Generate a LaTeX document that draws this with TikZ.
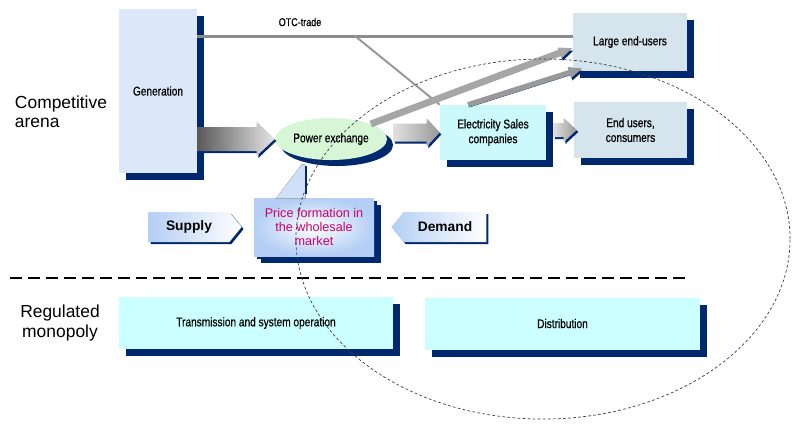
\documentclass[tikz,border=0pt]{standalone}
\usepackage{fontspec}
\setmainfont{Liberation Sans}
\newfontfamily\narrowfont[FakeStretch=0.8,FakeBold=0.6]{Liberation Sans}
\usetikzlibrary{arrows.meta,positioning,calc,shapes.geometric,shapes.symbols,shadows}
\definecolor{navy}{RGB}{0,40,110}
\definecolor{genfill}{RGB}{220,232,250}
\definecolor{userfill}{RGB}{214,228,238}
\definecolor{salesfill}{RGB}{204,250,252}
\definecolor{gridfill}{RGB}{204,255,255}
\definecolor{pxfill}{RGB}{214,246,214}
\definecolor{pricefill}{RGB}{180,206,245}
\definecolor{magentatext}{RGB}{204,0,110}

\begin{document}
\begin{tikzpicture}[x=0.025cm,y=-0.025cm,
    box/.style={inner sep=2pt,align=center,
      font=\narrowfont\fontsize{9}{10.5}\selectfont,
      drop shadow={shadow xshift=1.75mm,shadow yshift=-1.75mm,fill=navy,opacity=1}},
    tag/.style={signal,signal pointer angle=102,minimum height=0.75cm,
      font=\bfseries\fontsize{9.8}{11}\selectfont,
      drop shadow={shadow xshift=0.5mm,shadow yshift=-0.5mm,fill=navy,opacity=1}},
    fatarrow/.style={drop shadow={shadow xshift=0.4mm,shadow yshift=-0.5mm,fill=navy,opacity=1}},
    slantarrow/.style={draw=black!35,line width=1.7mm,-{Triangle[length=3.5mm,width=2.6mm]},
      preaction={draw=navy,transform canvas={shift={(0.3mm,-0.6mm)}}}},
    otcline/.style={draw=black!45,line width=0.75mm},
    otcthin/.style={draw=black!40,line width=0.5mm},
    sepline/.style={line width=2.1pt,dash pattern=on 8.5pt off 4.25pt},
    zone/.style={draw=black!75,line width=0.5pt,dash pattern=on 2pt off 1.6pt},
    arealabel/.style={font=\fontsize{12.4}{13.8}\selectfont}
  ]
    \useasboundingbox (0,0) rectangle (796,424);

    % competitive arena
    \node[box,fill=genfill,minimum width=1.95cm,minimum height=4.1cm] (gen) at (158,91) {Generation};
    \node[box,fill=userfill,minimum width=2.85cm,minimum height=1.45cm] (leu) at (630,42) {Large end-users};
    \node[box,fill=salesfill,minimum width=2.65cm,minimum height=1.375cm] (es) at (493,132.5)
      {Electricity Sales\\companies};
    \node[box,fill=userfill,minimum width=2.825cm,minimum height=1.4cm] (eu) at (630.5,130)
      {End users,\\consumers};

    \node[arealabel,anchor=west,align=left] (arena) at (10,112) {Competitive\\arena};
    \node[arealabel,align=center] (monopoly) at (60,323) {Regulated\\monopoly};

    % OTC trade
    \coordinate (otcsplit) at (355,36);
    \node[font=\narrowfont\fontsize{8}{9}\selectfont] (otclabel) at (300,22) {OTC-trade};
    \draw[otcline] (gen.east |- otcsplit) -- (leu.west |- otcsplit);
    \draw[otcthin] (otcsplit) -- (es.north west);

    % power exchange and flows
    \node[ellipse,fill=pxfill,inner sep=0pt,minimum width=2.8cm,minimum height=1.05cm,
      font=\narrowfont\fontsize{9}{10.5}\selectfont,
      drop shadow={shadow xshift=1.5mm,shadow yshift=-1.5mm,fill=navy,opacity=1}] (px) at (331,139)
      {Power exchange};

    \shade[fatarrow,left color=black!65,right color=black!10]
      ($(gen.east |- px.west)+(0,-12)$) -- ($(px.west)+(-18,-12)$) -- ($(px.west)+(-18,-17)$)
      -- (px.west) -- ($(px.west)+(-18,17)$) -- ($(px.west)+(-18,12)$)
      -- ($(gen.east |- px.west)+(0,12)$) -- cycle;
    \shade[fatarrow,left color=black!12,right color=black!40]
      ($(px.east |- es.west)+(6,-9)$) -- ($(es.west)+(-13,-9)$) -- ($(es.west)+(-13,-14)$)
      -- (es.west) -- ($(es.west)+(-13,14)$) -- ($(es.west)+(-13,9)$)
      -- ($(px.east |- es.west)+(6,9)$) -- cycle;
    \shade[fatarrow,left color=black!12,right color=black!40]
      ($(es.east |- eu.west)+(7,-7)$) -- ($(eu.west)+(-10,-7)$) -- ($(eu.west)+(-10,-12)$)
      -- ($(eu.west)+(3,0)$) -- ($(eu.west)+(-10,12)$) -- ($(eu.west)+(-10,7)$)
      -- ($(es.east |- eu.west)+(7,7)$) -- cycle;

    \draw[slantarrow] (px.north east) -- ($(leu.west)+(0,6)$);
    \draw[slantarrow,line width=1.3mm,draw=black!40] ($(es.north)+(-25,0)$) -- ($(leu.south west)+(10,-3)$);

    % price formation
    \node[box,inner color=white,outer color=pricefill,minimum width=3cm,minimum height=1.45cm,
      text=magentatext,font=\fontsize{9}{9.8}\selectfont,
      drop shadow={shadow xshift=0.7mm,shadow yshift=-0.7mm,fill=navy,opacity=1}] (price) at (314,227)
      {Price formation in\\the wholesale\\market};
    \fill[top color=pricefill!70,bottom color=pricefill!60!white]
      ($(price.north west)+(22,1)$) -- ($(px.south)+(-29,4)$) -- ($(px.south)+(-26,4)$)
      -- ($(price.north west)+(52,1)$) -- cycle;
    \draw[navy,line width=0.6mm] ($(px.south)+(-25,6)$) -- ($(px.south)+(-25,34)$);

    \node[tag,signal to=east,left color=pricefill,right color=white,minimum width=2.325cm]
      (supply) at (189,227) {Supply};
    \node[tag,signal to=west,left color=pricefill,right color=white,minimum width=2.375cm]
      (demand) at (445,227) {Demand};

    % regulated monopoly
    \draw[sepline] (10,278) -- (690,278);
    \node[box,fill=gridfill,minimum width=6.85cm,minimum height=1.3cm] (trans) at (256,323)
      {Transmission and system operation};
    \node[box,fill=gridfill,minimum width=6.875cm,minimum height=1.3cm] (dist) at (562.5,323.5)
      {Distribution};

    \draw[zone] (543,239) ellipse [x radius=6.175cm,y radius=4.5cm];
\end{tikzpicture}
\end{document}
